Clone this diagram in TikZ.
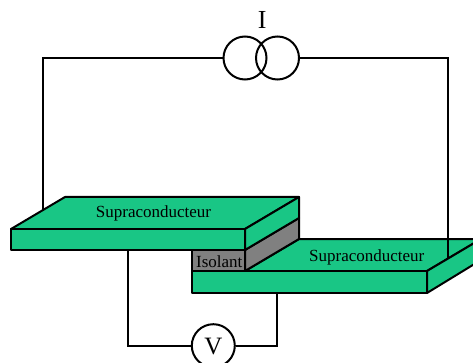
\documentclass[tikz,border=0pt]{standalone}
\usepackage{fontspec}
\setmainfont{Liberation Serif}
\definecolor{supra}{RGB}{25,198,133}
\definecolor{iso}{RGB}{128,128,128}
\tikzset{
  x=1pt,y=-1pt,
  wire/.style={draw=black,line width=2pt},
  slab/.style={draw=black,line width=2pt,fill=supra,line join=round},
  isoface/.style={draw=black,line width=2pt,fill=iso,line join=round},
  meter/.style={circle,draw=black,line width=2pt,minimum size=43pt,inner sep=0pt},
  smalltext/.style={font=\fontsize{17}{17}\selectfont,inner sep=0pt},
}
\begin{document}
\begin{tikzpicture}
\useasboundingbox (0,0) rectangle (473,363);
\clip (0,0) rectangle (473,363);
% anchors
\node[meter] (src1) at (245,58) {};
\node[meter] (src2) at (277.5,58) {};
\node[meter] (volt) at (213.3,345.7) {};
\coordinate (topL) at (42.5,212);
\coordinate (topLc) at (42.5,58);
\coordinate (botR) at (447.8,259);
\coordinate (botRc) at (447.8,58);
\coordinate (vL) at (127.7,250);
\coordinate (vLc) at (127.7,345.7);
\coordinate (vR) at (277.3,293);
\coordinate (vRc) at (277.3,345.7);
% bottom slab
\draw[slab] (245,271) -- (299,239) -- (481,239) -- (427,271) -- cycle;
\draw[slab] (192,271) rectangle (427,293);
\draw[slab] (427,271) -- (481,239) -- (481,260) -- (427,293) -- cycle;
% insulator
\draw[isoface] (192,250) rectangle (245,271);
\draw[isoface] (245,250) -- (299,218) -- (299,239) -- (245,271) -- cycle;
% wires
\draw[wire] (topL) -- (topLc) -- (src1.west);
\draw[wire] (botR) -- (botRc) -- (src2.east);
% top slab
\draw[slab] (11,229) -- (65,197) -- (299,197) -- (245,229) -- cycle;
\draw[slab] (11,229) rectangle (245,250);
\draw[slab] (245,229) -- (299,197) -- (299,218) -- (245,250) -- cycle;
% voltmeter wires
\draw[wire] (vL) -- (vLc) -- (volt.west);
\draw[wire] (vR) -- (vRc) -- (volt.east);
% labels
\node[smalltext] (s1) at (153.5,213) {Supraconducteur};
\node[smalltext] (s2) at (366.8,257) {Supraconducteur};
\node[smalltext] (iso) at (219.3,262) {Isolant};
\node[font=\fontsize{26}{26}\selectfont,inner sep=0pt] (ilab) at (262.3,19.5) {I};
\node[font=\fontsize{25}{25}\selectfont,inner sep=0pt] (vlab) at (213.3,347) {V};
\end{tikzpicture}
\end{document}
